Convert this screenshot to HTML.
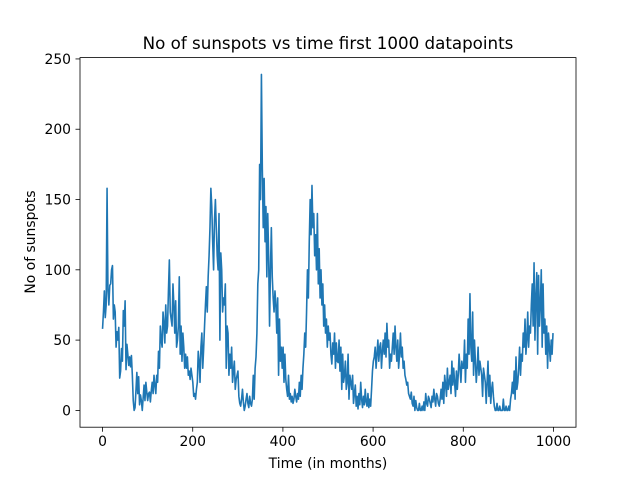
<!DOCTYPE html>
<html><head><meta charset="utf-8"><style>
body{margin:0;background:#fff;font-family:"DejaVu Sans","Liberation Sans",sans-serif;}
svg text{font-family:"DejaVu Sans","Liberation Sans",sans-serif;fill:#000}
</style></head><body>
<svg id="chart" width="640" height="480">
<rect width="640" height="480" fill="#fff"/>
<text x="328" y="49" font-size="16.7" text-anchor="middle">No of sunspots vs time first 1000 datapoints</text>
<text x="328" y="468" font-size="13.9" text-anchor="middle">Time (in months)</text>
<text transform="translate(35,242) rotate(-90)" font-size="13.9" text-anchor="middle">No of sunspots</text>
<g id="ticks"></g>
<polyline id="line" fill="none" stroke="#1f77b4" stroke-width="1.6" stroke-linejoin="round"/>
<rect x="80" y="57.6" width="496" height="369.6" fill="none" stroke="#000" stroke-width="0.8"/>
</svg>
<script>
const sunspots=[
58,70,85,66,75,158,85,75,89,90,100,103,65,75,70,45,56,50,59,23,28,44,35,71,60,
78,29,47,40,32,38,31,39,25,7,0,2,14,27,12,24,4,11,7,0,9,18,7,20,13,
7,12,13,6,14,20,12,25,18,12,25,20,42,30,60,50,45,70,62,48,75,55,60,85,107,
70,65,60,90,75,55,78,45,50,60,95,40,60,35,55,45,30,40,30,38,25,28,22,30,25,
20,10,12,8,15,20,42,35,20,45,55,30,44,60,75,88,70,95,110,130,158,145,120,100,135,
150,130,110,100,140,50,112,100,70,80,75,90,30,60,55,25,40,30,45,20,28,35,15,22,25,
28,10,5,3,8,15,6,0,3,8,12,5,2,10,5,3,8,25,8,30,38,55,90,100,175,
150,239,172,130,165,120,145,95,140,110,60,100,130,95,80,70,85,75,55,80,25,65,35,45,30,
45,20,40,22,15,10,25,8,12,6,10,5,8,15,10,6,12,8,20,10,25,15,30,40,55,
45,70,100,80,120,150,125,160,130,140,110,125,100,140,90,115,80,100,75,90,60,75,55,65,45,
60,50,55,40,33,48,40,55,30,48,35,34,50,28,45,15,40,20,25,35,15,20,40,8,25,
20,15,25,5,12,18,3,10,1,12,4,20,8,2,10,4,15,6,3,12,2,8,3,15,28,
35,38,45,30,40,50,35,45,48,30,42,50,40,55,38,62,45,50,30,40,35,45,55,40,60,
45,35,50,30,40,55,38,45,30,35,25,22,18,20,12,10,8,13,5,3,10,0,7,2,0,
0,5,0,0,3,0,6,0,12,5,3,10,8,5,2,10,6,15,8,3,12,10,5,3,8,
15,8,20,5,25,18,10,30,15,20,25,12,35,18,30,20,10,28,15,25,40,30,20,35,30,
30,50,20,40,30,65,40,83,45,35,70,25,50,35,20,30,45,25,35,30,25,10,30,25,20,
5,20,35,10,25,5,15,20,10,3,0,0,5,0,0,3,0,0,0,8,0,0,3,0,0,
3,0,8,12,20,12,28,8,38,15,20,30,45,25,40,35,55,45,65,40,50,70,45,60,55,
75,90,60,105,50,80,98,40,96,60,75,100,45,90,55,65,40,60,30,55,45,35,50,40,55];
const xTicks=[0,200,400,600,800,1000];
const yTicks=[0,50,100,150,200,250];
const X=t=>80+(t+50)*496/1100;
const Y=v=>427.2-(v+11.95)*369.6/262.9;
const n=sunspots.length;
const line=document.getElementById('line');
line.setAttribute('points',sunspots.map((v,i)=>X(i*999/(n-1)).toFixed(2)+','+Y(v).toFixed(2)).join(' '));
const g=document.getElementById('ticks');
const NS='http://www.w3.org/2000/svg';
xTicks.forEach(t=>{
 const l=document.createElementNS(NS,'line');
 l.setAttribute('x1',X(t));l.setAttribute('x2',X(t));l.setAttribute('y1',427.2);l.setAttribute('y2',431.7);
 l.setAttribute('stroke','#000');l.setAttribute('stroke-width','0.8');
 
 
 g.appendChild(l);
 const tx=document.createElementNS(NS,'text');
 tx.setAttribute('x',X(t));tx.setAttribute('y',446);tx.setAttribute('font-size','13.9');tx.setAttribute('text-anchor','middle');
 tx.textContent=t;
 
 
 g.appendChild(tx);
});
yTicks.forEach(v=>{
 const l=document.createElementNS(NS,'line');
 l.setAttribute('x1',75.5);l.setAttribute('x2',80);l.setAttribute('y1',Y(v));l.setAttribute('y2',Y(v));
 l.setAttribute('stroke','#000');l.setAttribute('stroke-width','0.8');
 
 
 g.appendChild(l);
 const tx=document.createElementNS(NS,'text');
 tx.setAttribute('x',71);tx.setAttribute('y',Y(v)+5);tx.setAttribute('font-size','13.9');tx.setAttribute('text-anchor','end');
 tx.textContent=v;
 
 
 g.appendChild(tx);
});
</script>
</body></html>
